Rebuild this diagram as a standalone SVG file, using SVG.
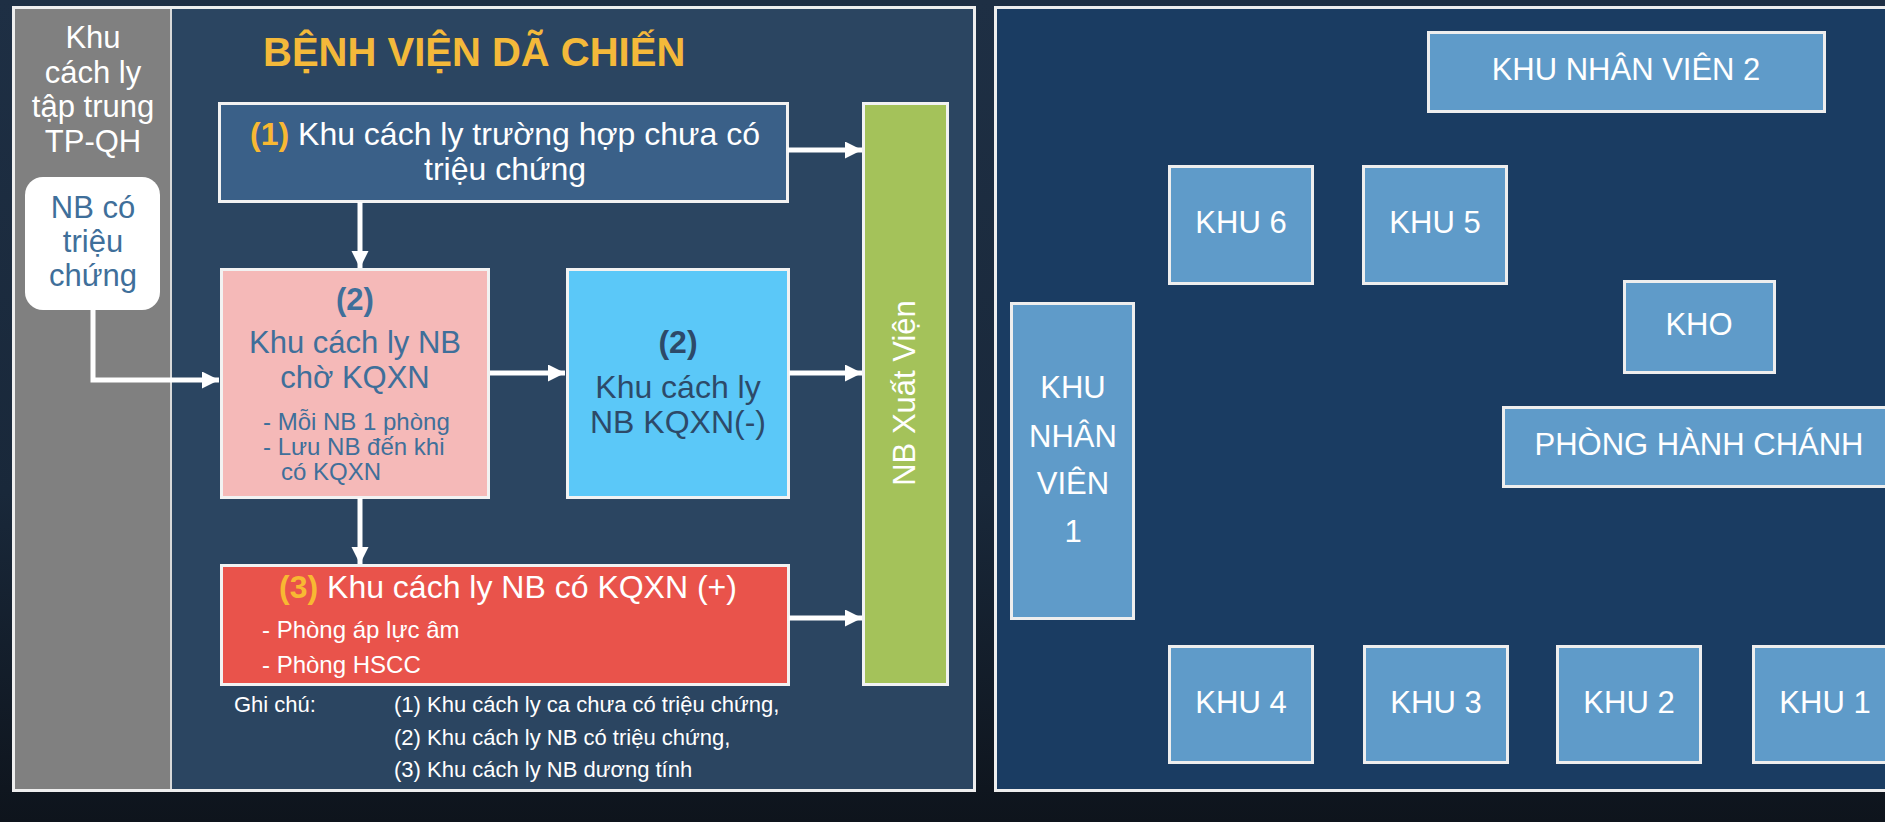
<svg xmlns="http://www.w3.org/2000/svg" width="1885" height="822" viewBox="0 0 1885 822">
<defs>
<linearGradient id="bg" x1="0" y1="0" x2="0" y2="1">
<stop offset="0" stop-color="#1e2f44"/>
<stop offset="0.6" stop-color="#19283a"/>
<stop offset="1" stop-color="#0e141c"/>
</linearGradient>
<marker id="ah" markerUnits="userSpaceOnUse" markerWidth="18" markerHeight="18" refX="17" refY="8.5" orient="auto">
<path d="M0,0 L17,8.5 L0,17 z" fill="#ffffff"/>
</marker>
<style>
text{font-family:"Liberation Sans",Arial,sans-serif}
.box{stroke:#f2f2f2;stroke-width:3}
.rb{fill:#5f9bc9;stroke:#eeeeee;stroke-width:3}
.rt{fill:#ffffff;font-size:31px;text-anchor:middle}
.w{fill:#ffffff}
.mid{text-anchor:middle}
.gold{fill:#f8b832;font-weight:bold}
.con{fill:none;stroke:#ffffff;stroke-width:5}
</style>
</defs>
<rect x="0" y="0" width="1885" height="822" fill="url(#bg)"/>

<g id="left-panel">
<rect x="13.5" y="7.5" width="961" height="783" fill="#2b4561" stroke="#eeeeee" stroke-width="3"/>
<rect x="15" y="9" width="155" height="780" fill="#808080"/>
<line x1="171" y1="9" x2="171" y2="789" stroke="#d9d9d9" stroke-width="2"/>
<text class="w mid" x="93" y="48" font-size="31">Khu</text>
<text class="w mid" x="93" y="82.5" font-size="31">cách ly</text>
<text class="w mid" x="93" y="117" font-size="31">tập trung</text>
<text class="w mid" x="93" y="151.5" font-size="31">TP-QH</text>
<text x="263" y="66" font-size="40" font-weight="bold" fill="#f4b93a">BỆNH VIỆN DÃ CHIẾN</text>
</g>

<g id="nb-trieu-chung">
<rect x="25" y="177" width="135" height="133" rx="18" fill="#ffffff"/>
<text class="mid" x="93" y="218" font-size="31" fill="#3f6f9a">NB có</text>
<text class="mid" x="93" y="252" font-size="31" fill="#3f6f9a">triệu</text>
<text class="mid" x="93" y="286" font-size="31" fill="#3f6f9a">chứng</text>
</g>

<g id="khu-1">
<rect class="box" x="219.5" y="103.5" width="568" height="98" fill="#3a6088"/>
<text class="w mid" x="505" y="145" font-size="32"><tspan class="gold">(1)</tspan> Khu cách ly trường hợp chưa có</text>
<text class="w mid" x="505" y="180" font-size="32">triệu chứng</text>
</g>

<g id="khu-2-cho">
<rect class="box" x="221.5" y="269.5" width="267" height="228" fill="#f5b9b8"/>
<text class="mid" x="355" y="310" font-size="31" font-weight="bold" fill="#3f6f9a">(2)</text>
<text class="mid" x="355" y="353" font-size="31" fill="#3f6f9a">Khu cách ly NB</text>
<text class="mid" x="355" y="388" font-size="31" fill="#3f6f9a">chờ KQXN</text>
<text x="263" y="430" font-size="24" fill="#3f6f9a">-  Mỗi NB 1 phòng</text>
<text x="263" y="455" font-size="24" fill="#3f6f9a">-  Lưu NB đến khi</text>
<text x="281" y="480" font-size="24" fill="#3f6f9a">có KQXN</text>
</g>

<g id="khu-2-am">
<rect class="box" x="567.5" y="269.5" width="221" height="228" fill="#5bc8f8"/>
<text class="mid" x="678" y="353" font-size="32" font-weight="bold" fill="#2d4a69">(2)</text>
<text class="mid" x="678" y="398" font-size="32" fill="#2d4a69">Khu cách ly</text>
<text class="mid" x="678" y="433" font-size="32" fill="#2d4a69">NB KQXN(-)</text>
</g>

<g id="khu-3">
<rect class="box" x="221.5" y="565.5" width="567" height="119" fill="#e9534b"/>
<text class="w mid" x="508" y="598" font-size="32"><tspan class="gold">(3)</tspan> Khu cách ly NB có KQXN (+)</text>
<text class="w" x="262" y="638" font-size="24">- Phòng áp lực âm</text>
<text class="w" x="262" y="673" font-size="24">- Phòng HSCC</text>
</g>

<g id="xuat-vien">
<rect class="box" x="863.5" y="103.5" width="84" height="581" fill="#a4c25a"/>
<text class="w mid" x="915" y="393" font-size="31" transform="rotate(-90 915 393)">NB Xuất Viện</text>
</g>

<g id="ghi-chu">
<text class="w" x="234" y="712" font-size="22">Ghi chú:</text>
<text class="w" x="394" y="712" font-size="22">(1) Khu cách ly ca chưa có triệu chứng,</text>
<text class="w" x="394" y="745" font-size="22">(2) Khu cách ly NB có triệu chứng,</text>
<text class="w" x="394" y="777" font-size="22">(3) Khu cách ly NB dương tính</text>
</g>

<g id="connectors">
<path class="con" d="M788,150 L862,150" marker-end="url(#ah)"/>
<path class="con" d="M360,202 L360,268" marker-end="url(#ah)"/>
<path class="con" d="M93,310 L93,380 L219,380" marker-end="url(#ah)"/>
<path class="con" d="M490,373 L565,373" marker-end="url(#ah)"/>
<path class="con" d="M789,373 L862,373" marker-end="url(#ah)"/>
<path class="con" d="M360,498 L360,564" marker-end="url(#ah)"/>
<path class="con" d="M789,618 L862,618" marker-end="url(#ah)"/>
</g>

<g id="right-panel">
<rect x="995.5" y="7.5" width="900" height="783" fill="#1a3c62" stroke="#eeeeee" stroke-width="3"/>
</g>

<g id="khu-nhan-vien-2">
<rect class="rb" x="1428.5" y="32.5" width="396" height="79"/>
<text class="rt" x="1626" y="80">KHU NHÂN VIÊN 2</text>
</g>
<g id="khu-6">
<rect class="rb" x="1169.5" y="166.5" width="143" height="117"/>
<text class="rt" x="1241" y="233">KHU 6</text>
</g>
<g id="khu-5">
<rect class="rb" x="1363.5" y="166.5" width="143" height="117"/>
<text class="rt" x="1435" y="233">KHU 5</text>
</g>
<g id="kho">
<rect class="rb" x="1624.5" y="281.5" width="150" height="91"/>
<text class="rt" x="1699" y="335">KHO</text>
</g>
<g id="phong-hanh-chanh">
<rect class="rb" x="1503.5" y="407.5" width="392" height="79"/>
<text class="rt" x="1699" y="455">PHÒNG HÀNH CHÁNH</text>
</g>
<g id="khu-nhan-vien-1">
<rect class="rb" x="1011.5" y="303.5" width="122" height="315"/>
<text class="rt" x="1073" y="398">KHU</text>
<text class="rt" x="1073" y="447">NHÂN</text>
<text class="rt" x="1073" y="494">VIÊN</text>
<text class="rt" x="1073" y="542">1</text>
</g>
<g id="khu-4">
<rect class="rb" x="1169.5" y="646.5" width="143" height="116"/>
<text class="rt" x="1241" y="713">KHU 4</text>
</g>
<g id="khu-3-right">
<rect class="rb" x="1364.5" y="646.5" width="143" height="116"/>
<text class="rt" x="1436" y="713">KHU 3</text>
</g>
<g id="khu-2-right">
<rect class="rb" x="1557.5" y="646.5" width="143" height="116"/>
<text class="rt" x="1629" y="713">KHU 2</text>
</g>
<g id="khu-1-right">
<rect class="rb" x="1753.5" y="646.5" width="144" height="116"/>
<text class="rt" x="1825" y="713">KHU 1</text>
</g>
</svg>
